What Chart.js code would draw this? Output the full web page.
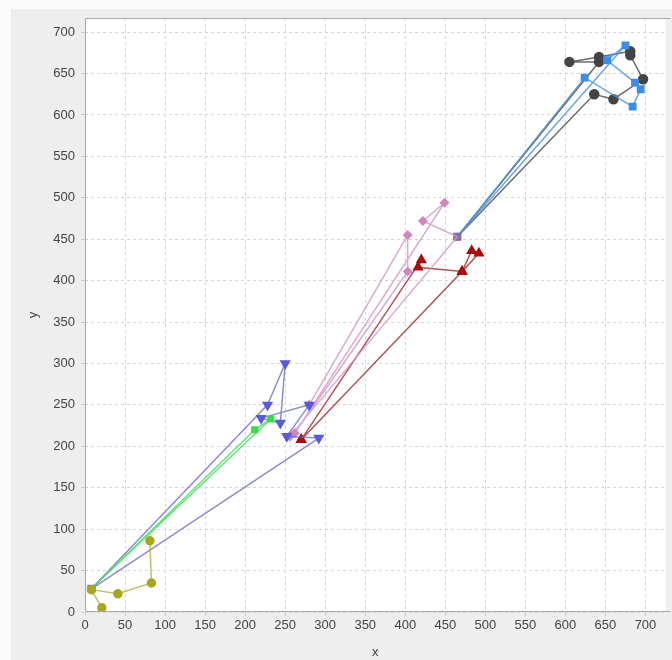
<!DOCTYPE html>
<html>
<head>
<meta charset="utf-8">
<script src="https://cdn.jsdelivr.net/npm/chart.js@4.4.1/dist/chart.umd.min.js"></script>
<style>
  html, body { margin: 0; padding: 0; background: #fafafa; }
  #wrap { width: 672px; height: 660px; overflow: hidden; }
</style>
</head>
<body>
<div id="wrap"><canvas id="tour" width="672" height="660"></canvas></div>
<script>
// depots (drawn as squares)
const depotX = [8, 465]
const depotY = [28, 453]

// routes, in visiting order
const oliveX = [21, 8, 41, 83, 81]
const oliveY = [5, 27, 22, 35, 86]

const greenX = [8, 212, 232, 8]
const greenY = [28, 220, 233, 28]

const violetX = [8, 228, 250, 244, 220, 280, 252, 292, 8]
const violetY = [28, 250, 300, 228, 234, 250, 212, 210, 28]

const pinkX = [280, 403, 403, 262, 449, 422, 465, 256]
const pinkY = [250, 455, 411, 216, 494, 472, 453, 212]

const redX = [270, 420, 416, 471, 483, 492, 471, 270]
const redY = [208, 425, 416, 411, 436, 433, 411, 208]

const skyX = [465, 675, 652, 687, 694, 684, 624, 465]
const skyY = [453, 684, 666, 639, 631, 610, 645, 453]

const greyX = [465, 642, 605, 642, 681, 681, 697, 660, 636, 465]
const greyY = [453, 664, 664, 670, 677, 672, 643, 619, 625, 453]

const xTicks = [0, 50, 100, 150, 200, 250, 300, 350, 400, 450, 500, 550, 600, 650, 700]
const yTicks = [0, 50, 100, 150, 200, 250, 300, 350, 400, 450, 500, 550, 600, 650, 700]

function toPoints(xs, ys) {
  return xs.map((x, i) => ({ x: x, y: ys[i] }))
}

function isDepot(p) {
  for (let i = 0; i < depotX.length; i++) {
    if (p.x === depotX[i] && p.y === depotY[i]) return true
  }
  return false
}

// one route dataset, markers hidden on the depot points
function route(label, xs, ys, marker, line, style, size, rot) {
  return {
    label: label,
    data: toPoints(xs, ys),
    showLine: true,
    borderColor: line,
    borderWidth: 1.5,
    backgroundColor: marker,
    pointBorderColor: marker,
    pointBackgroundColor: marker,
    pointStyle: style,
    pointRotation: rot || 0,
    pointRadius: ctx => isDepot(ctx.raw) ? 0 : size,
    pointHoverRadius: size
  }
}

const plotBox = {
  id: 'plotBox',
  beforeDraw(chart) {
    const c = chart.ctx, a = chart.chartArea
    c.save()
    c.fillStyle = '#eeeeee'
    c.fillRect(11, 9, chart.width - 11, chart.height - 9)
    c.fillStyle = '#ffffff'
    c.fillRect(a.left, a.top, a.right - a.left, a.bottom - a.top)
    c.restore()
  },
  afterDatasetsDraw(chart) {
    const c = chart.ctx, a = chart.chartArea
    c.save()
    c.strokeStyle = '#a8a8a8'
    c.lineWidth = 1
    c.beginPath()
    c.moveTo(a.right + 5, a.top + 0.5)
    c.lineTo(a.left + 0.5, a.top + 0.5)
    c.lineTo(a.left + 0.5, a.bottom - 0.5)
    c.lineTo(a.right + 5, a.bottom - 0.5)
    c.stroke()
    c.restore()
  }
}

const tickFont = { family: 'Liberation Sans', size: 13 }

new Chart(document.getElementById('tour'), {
  type: 'scatter',
  data: {
    datasets: [
      route('olive', oliveX, oliveY, '#a8a820', 'rgba(170,170,60,0.75)', 'circle', 4),
      route('green', greenX, greenY, '#33dd44', 'rgba(60,220,90,0.8)', 'rect', 4),
      route('violet', violetX, violetY, '#5a5ad8', 'rgba(100,100,200,0.75)', 'triangle', 5, 180),
      route('pink', pinkX, pinkY, '#cc88bb', 'rgba(210,150,195,0.8)', 'rectRot', 4),
      route('red', redX, redY, '#aa0a0a', 'rgba(160,40,40,0.8)', 'triangle', 5),
      route('sky', skyX, skyY, '#3a8ee8', 'rgba(80,150,225,0.85)', 'rect', 4.5),
      route('grey', greyX, greyY, '#444444', 'rgba(70,70,70,0.8)', 'circle', 4.5),
      {
        label: 'depot',
        data: toPoints(depotX, depotY),
        showLine: false,
        pointStyle: 'rect',
        pointRadius: 5,
        backgroundColor: '#9070a8',
        borderColor: '#7a5a92',
        borderWidth: 1
      }
    ]
  },
  options: {
    responsive: false,
    animation: false,
    layout: { padding: { left: 0, top: 18, right: 0, bottom: 0 } },
    plugins: { legend: { display: false }, tooltip: { enabled: false } },
    scales: {
      x: {
        type: 'linear',
        min: 0,
        max: 725,
        afterBuildTicks: s => { s.ticks = xTicks.map(v => ({ value: v })) },
        afterFit: s => { s.height = 48 },
        border: { display: false, dash: [3, 3] },
        grid: { color: '#d6d6d6', tickColor: '#cccccc', tickLength: 4 },
        ticks: { color: '#444', font: tickFont, padding: 2, maxRotation: 0 },
        title: { display: true, text: 'x', color: '#444', font: tickFont, padding: { top: 2, bottom: 0 } }
      },
      y: {
        type: 'linear',
        min: 0,
        max: 717,
        afterBuildTicks: s => { s.ticks = yTicks.map(v => ({ value: v })) },
        afterFit: s => { s.width = 85 },
        border: { display: false, dash: [3, 3] },
        grid: { color: '#d6d6d6', tickColor: '#cccccc', tickLength: 4 },
        ticks: { color: '#444', font: tickFont, padding: 6 },
        title: { display: true, text: 'y', color: '#444', font: tickFont, padding: { top: 26, bottom: 0 } }
      }
    }
  },
  plugins: [plotBox]
})
</script>
</body>
</html>
